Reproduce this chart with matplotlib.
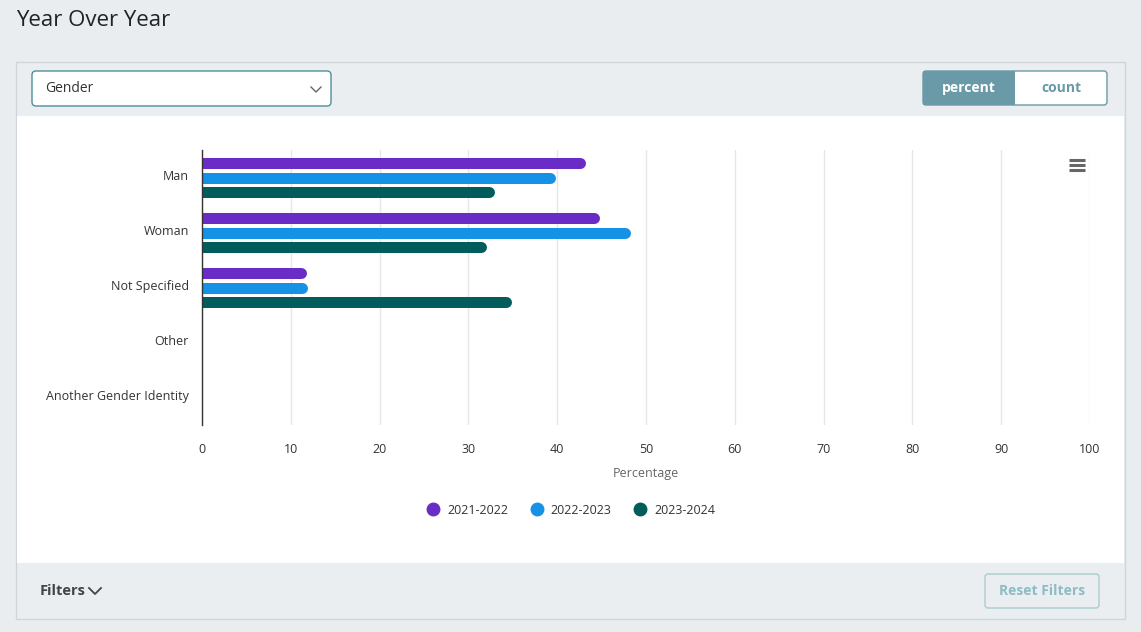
import matplotlib.pyplot as plt
import matplotlib.transforms as mtransforms
from matplotlib.patches import FancyBboxPatch, Rectangle
from matplotlib.lines import Line2D

plt.rcParams['font.family'] = ['Open Sans', 'DejaVu Sans']

# data
categories = ['Man', 'Woman', 'Not Specified', 'Other', 'Another Gender Identity']
years = ['2021-2022', '2022-2023', '2023-2024']
pct_2021 = [43.2, 44.8, 11.8, 0.0, 0.0]
pct_2022 = [39.8, 48.2, 11.9, 0.0, 0.15]
pct_2023 = [32.9, 32.0, 34.9, 0.0, 0.0]
colors = ['#6a2cc6', '#1592e6', '#035c5c']
xticks = [0, 10, 20, 30, 40, 50, 60, 70, 80, 90, 100]

W, H = 1141, 632
fig = plt.figure(figsize=(W / 100, H / 100), dpi=100)
fig.patch.set_facecolor('#e9edf0')

# background axes in pixel coords for the page widgets
bg = fig.add_axes([0, 0, 1, 1])
bg.set_xlim(0, W)
bg.set_ylim(H, 0)
bg.axis('off')

bg.text(16, 21, 'Year Over Year', fontsize=16, color='#222222', va='center', ha='left')

# card
bg.add_patch(Rectangle((16, 62), 1109, 557, facecolor='#eaeef1', edgecolor='#cfd5da', lw=1))
bg.add_patch(Rectangle((17, 116), 1107, 447, facecolor='white', edgecolor='none'))

# dropdown
bg.add_patch(FancyBboxPatch((32, 71), 299, 35, boxstyle='round,pad=0,rounding_size=4',
                            facecolor='white', edgecolor='#4d9099', lw=1))
bg.text(45, 89, 'Gender', fontsize=10, color='#333333', va='center')
bg.plot([311, 316, 321], [87, 92, 87], color='#666666', lw=1)

# percent / count toggle
bg.add_patch(FancyBboxPatch((923, 71), 184, 34, boxstyle='round,pad=0,rounding_size=3',
                            facecolor='white', edgecolor='#6a9aa8', lw=1))
bg.add_patch(Rectangle((923, 71), 92, 34, facecolor='#6a9aa8', edgecolor='none'))
bg.text(969, 88, 'percent', fontsize=10, color='white', weight='bold', ha='center', va='center')
bg.text(1061, 88, 'count', fontsize=10, color='#6a9aa8', weight='bold', ha='center', va='center')

# footer
bg.text(40, 591, 'Filters', fontsize=10.5, color='#444444', weight='bold', va='center')
bg.plot([89, 95, 101], [588, 594, 588], color='#444444', lw=1.3)
bg.add_patch(FancyBboxPatch((985, 574), 114, 34, boxstyle='round,pad=0,rounding_size=3',
                            facecolor='#eaeef1', edgecolor='#a8ccd1', lw=1))
bg.text(1042, 591, 'Reset Filters', fontsize=10, color='#8cbdc4', weight='bold',
        ha='center', va='center')

# hamburger menu
for yy in [160, 165, 170]:
    bg.plot([1069, 1085], [yy, yy], color='#666666', lw=2.2, solid_capstyle='butt')

# chart axes
ax = fig.add_axes([202 / W, 1 - 425 / H, 888 / W, 275 / H])
ax.set_facecolor('none')
ax.set_xlim(0, 100)
ax.set_ylim(4.5, -0.5)

offsets = [-0.264, 0.0, 0.264]
lw_pt = 11 * 72 / 100
r = 5.5 * 100 / 888  # cap radius in data units
for series, off, c in zip([pct_2021, pct_2022, pct_2023], offsets, colors):
    ys = [i + off for i in range(len(categories))]
    ends = [max(v - r, 0) for v in series]
    coll = ax.hlines(ys, 0, ends, colors=c, lw=lw_pt, zorder=3)
    coll.set_capstyle('round')
    coll.set_linewidths([lw_pt if v > r else (2.5 if v > 0 else 0) for v in series])

ax.set_xticks(xticks)
ax.set_yticks(range(len(categories)))
ax.set_yticklabels(categories)
ax.tick_params(axis='both', length=0, labelsize=9, labelcolor='#333333')
ax.tick_params(axis='y', pad=9.5)
ax.tick_params(axis='x', pad=13)
shift = mtransforms.ScaledTranslation(0, 2.5 / 100, fig.dpi_scale_trans)
for lab in ax.get_yticklabels():
    lab.set_transform(lab.get_transform() + shift)
ax.grid(axis='x', color='#e6e6e6', lw=1)
ax.set_axisbelow(True)
for s in ['top', 'right', 'bottom']:
    ax.spines[s].set_visible(False)
ax.spines['left'].set_color('#333333')
ax.spines['left'].set_linewidth(1)
ax.spines['left'].set_zorder(4)
ax.set_xlabel('Percentage', fontsize=9, color='#666666', labelpad=8)

handles = [Line2D([], [], marker='o', ls='none', color=c, markersize=9) for c in colors]
fig.legend(handles, years, loc='center', bbox_to_anchor=(568 / W, 1 - 510 / H), ncol=3,
           frameon=False, fontsize=9, handletextpad=0.1, columnspacing=1.3,
           labelcolor='#333333')

fig.savefig('out.png', dpi=100, facecolor=fig.get_facecolor())
